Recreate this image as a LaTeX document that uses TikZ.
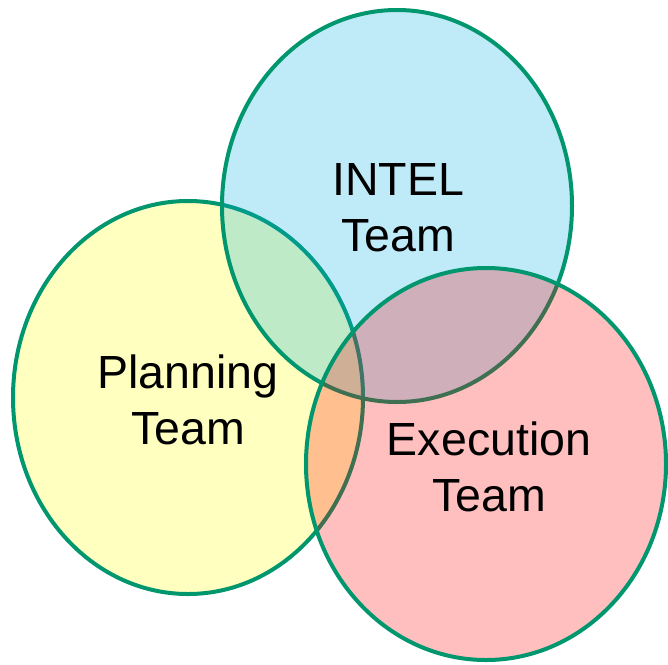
\documentclass[tikz,border=0pt]{standalone}
\usepackage{fontspec}
\setmainfont{Liberation Sans}
\definecolor{ringgreen}{RGB}{0,150,110}
\definecolor{intelblue}{RGB}{0,172,228}
\definecolor{planyellow}{RGB}{255,255,0}
\definecolor{execred}{RGB}{255,0,0}
\tikzset{
  vennring/.style={draw=ringgreen, line width=4pt, fill opacity=0.25},
  vennlabel/.style={align=center, font=\fontsize{46.5}{56}\selectfont, text=black, inner sep=0pt}
}
\begin{document}
\begin{tikzpicture}[x=1pt,y=-1pt]
\useasboundingbox (0,0) rectangle (668,664);
\fill[white] (0,0) rectangle (668,664);
\draw[vennring, fill=planyellow] (188,397.5) ellipse [x radius=175, y radius=196.5];
\draw[vennring, fill=intelblue] (397,206) ellipse [x radius=175, y radius=196];
\draw[vennring, fill=execred] (486,464) ellipse [x radius=180, y radius=196];
\node[vennlabel] (intel) at (398,208) {INTEL\\Team};
\node[vennlabel] (plan) at (188,400) {Planning\\Team};
\node[vennlabel] (exec) at (489,467) {Execution\\Team};
\end{tikzpicture}
\end{document}
